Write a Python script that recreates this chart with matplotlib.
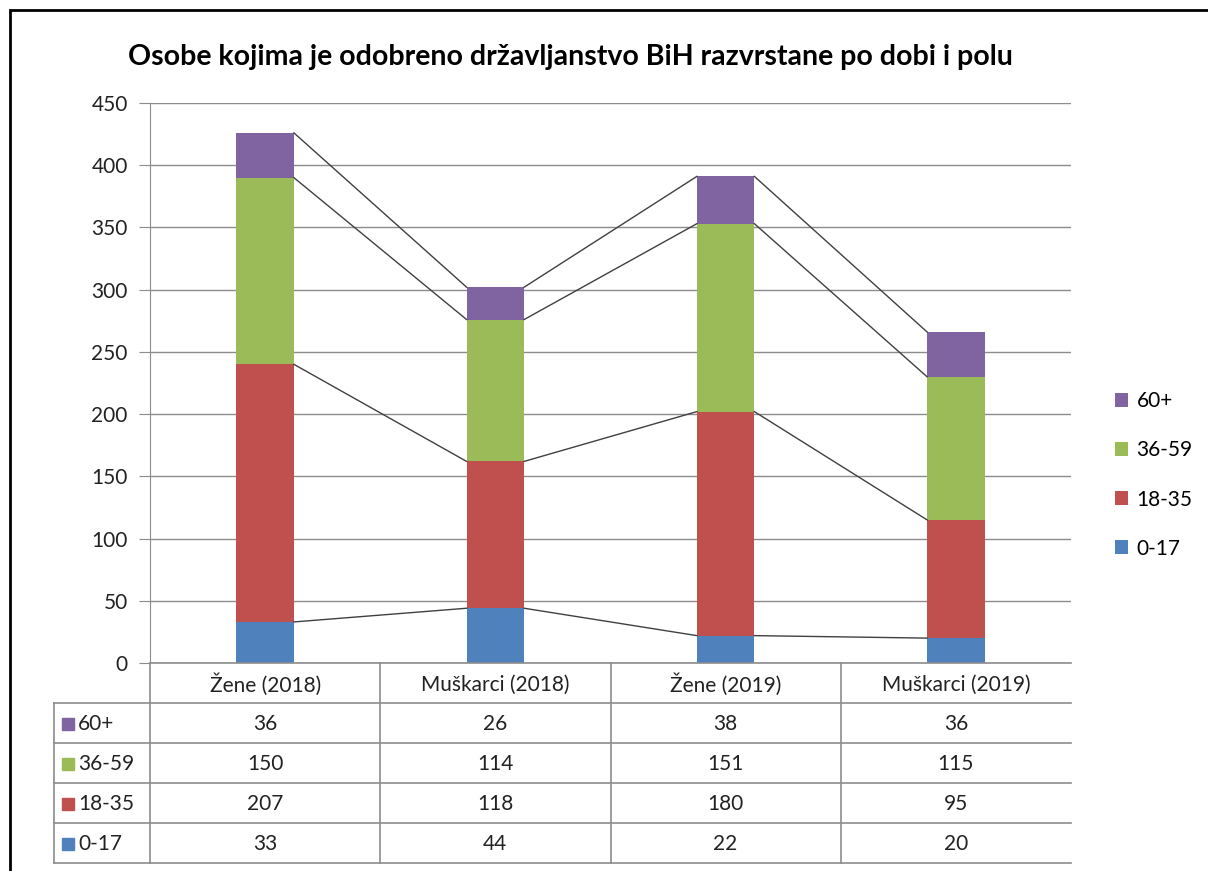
import matplotlib
matplotlib.use('Agg')
import matplotlib.pyplot as plt
from matplotlib.patches import Rectangle
import numpy as np

plt.rcParams['font.family'] = ['Lato', 'DejaVu Sans']

kategorije = ['Žene (2018)', 'Muškarci (2018)', 'Žene (2019)', 'Muškarci (2019)']
grupe = ['0-17', '18-35', '36-59', '60+']
v_0_17 = [33, 44, 22, 20]
v_18_35 = [207, 118, 180, 95]
v_36_59 = [150, 114, 151, 115]
v_60 = [36, 26, 38, 36]
boje = ['#4F81BD', '#C0504D', '#9BBB59', '#8064A2']

serije = [v_0_17, v_18_35, v_36_59, v_60]

W, H = 1208, 871
fig = plt.figure(figsize=(W / 100, H / 100), dpi=100)

# okvir oko cijelog grafikona
fig.add_artist(Rectangle((10 / W, -0.01), 1.2, (H - 10) / H + 0.01, transform=fig.transFigure,
                         fill=False, edgecolor='black', linewidth=2.0))

x0, x1 = 150, 1071
y0, y1 = 663, 103
ax = fig.add_axes([x0 / W, (H - y0) / H, (x1 - x0) / W, (y0 - y1) / H])

n = len(kategorije)
x = np.arange(n)
sirina = 0.25
dno = np.zeros(n)
for vals, boja, ime in zip(serije, boje, grupe):
    vals = np.array(vals)
    ax.bar(x, vals, sirina, bottom=dno, color=boja, label=ime, zorder=3)
    vrh = dno + vals
    # linije serije izmedju stubaca
    for i in range(n - 1):
        ax.plot([x[i] + sirina / 2, x[i + 1] - sirina / 2], [vrh[i], vrh[i + 1]],
                color='#404040', linewidth=1.0, zorder=4)
    dno = vrh

ax.set_xlim(-0.5, n - 0.5)
ax.set_ylim(0, 450)
ax.set_yticks(np.arange(0, 451, 50))
ax.set_xticks([])
ax.grid(axis='y', color='#8c8c8c', linewidth=1.0, zorder=0)
for s in ['top', 'right', 'bottom']:
    ax.spines[s].set_visible(False)
ax.spines['left'].set_color('#8c8c8c')
ax.tick_params(axis='y', length=8, color='#8c8c8c', labelsize=15, labelcolor='#222222', pad=8)

ax.set_title('Osobe kojima je odobreno državljanstvo BiH razvrstane po dobi i polu',
             fontsize=20.5, fontweight='bold', pad=27, x=0.456)

# legenda desno
h, l = ax.get_legend_handles_labels()
leg = fig.legend(h[::-1], l[::-1], loc='center left', bbox_to_anchor=(1096 / W, (H - 475) / H),
                 frameon=False, fontsize=15, handlelength=0.65, handleheight=0.65,
                 labelspacing=1.4, handletextpad=0.4)

# tabela podataka ispod grafikona
tab = fig.add_axes([0, 0, 1, 1], facecolor='none')
tab.set_xlim(0, W)
tab.set_ylim(H, 0)
tab.axis('off')
lc = '#8c8c8c'
red_h = 40
top = 703
kolone = np.linspace(x0, x1, n + 1)
tab.plot([x0, x1], [y0, y0], color=lc, lw=1.2)
for k in range(len(grupe) + 1):
    yy = top + k * red_h
    tab.plot([54, x1], [yy, yy], color=lc, lw=1.2)
tab.plot([54, 54], [top, top + len(grupe) * red_h], color=lc, lw=1.2)
for xx in kolone[:-1]:
    tab.plot([xx, xx], [y0, top + len(grupe) * red_h], color=lc, lw=1.2)
for j, kat in enumerate(kategorije):
    tab.text((kolone[j] + kolone[j + 1]) / 2, (y0 + top) / 2 + 2, kat,
             ha='center', va='center', fontsize=15, color='#222222')
for r, (ime, vals, boja) in enumerate(zip(grupe[::-1], serije[::-1], boje[::-1])):
    yc = top + r * red_h + red_h / 2 + 1
    tab.add_patch(Rectangle((62, yc - 6), 12, 12, color=boja))
    tab.text(78, yc, ime, ha='left', va='center', fontsize=15, color='#222222')
    for j, v in enumerate(vals):
        tab.text((kolone[j] + kolone[j + 1]) / 2, yc, str(v),
                 ha='center', va='center', fontsize=15, color='#222222')

plt.savefig('out.png', dpi=100)
plt.close()
